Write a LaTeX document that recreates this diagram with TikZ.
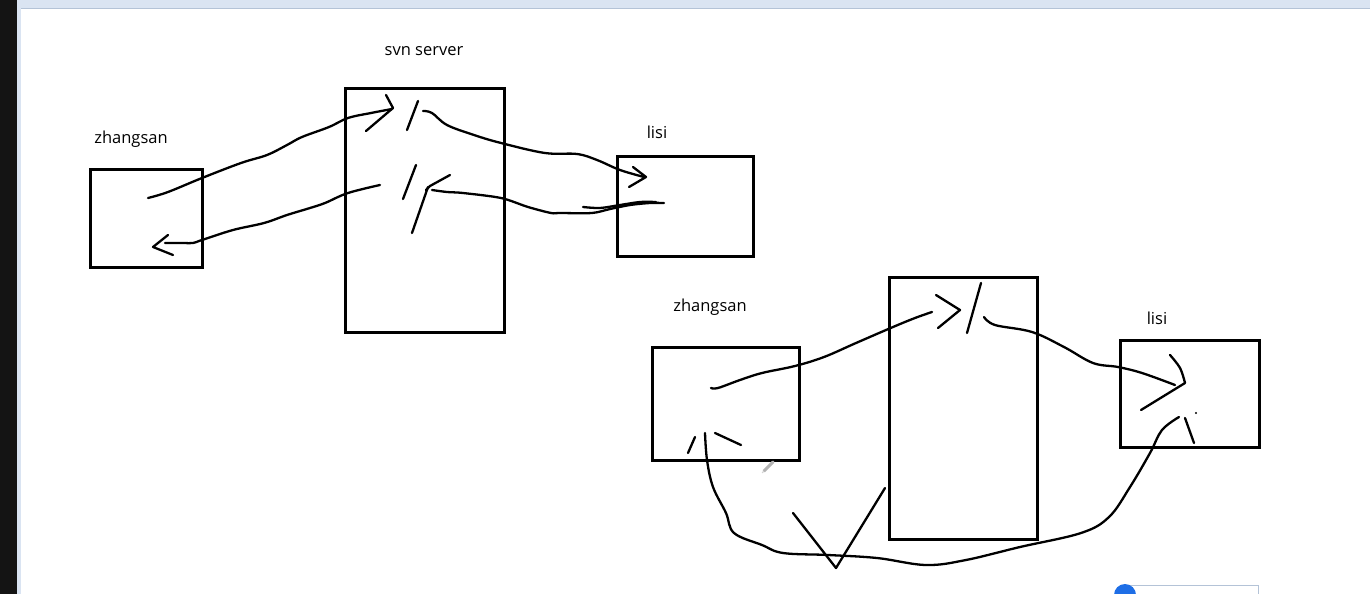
\documentclass[tikz,border=0pt]{standalone}
\usepackage{fontspec}
\setmainfont{Open Sans}
\definecolor{chrome}{RGB}{218,228,242}
\definecolor{chromeline}{RGB}{180,195,215}
\definecolor{widgetblue}{RGB}{30,110,230}
\begin{document}
\begin{tikzpicture}[x=1pt,y=-1pt,
  box/.style={draw, line width=3pt, inner sep=0pt, anchor=north west},
  pen/.style={line width=2.3pt, line cap=round, line join=round},
  lbl/.style={font=\fontsize{16.5}{18}\selectfont, inner sep=0pt}]
\useasboundingbox (0,0) rectangle (1370,594);
\fill[white] (0,0) rectangle (1370,594);
% window chrome
\fill[black!92] (0,0) rectangle (17,594);
\fill[chrome] (17,0) rectangle (1370,9);
\fill[chrome] (17,0) rectangle (21,594);
\draw[chromeline, line width=0.8pt] (21,8.5) -- (1370,8.5);
% boxes
\node[box, minimum width=112pt, minimum height=98pt] (za) at (89,168) {};
\node[box, minimum width=159pt, minimum height=244pt] (svn) at (344,87) {};
\node[box, minimum width=136pt, minimum height=100pt] (la) at (616,155) {};
\node[box, minimum width=147pt, minimum height=113pt] (zb) at (651,346) {};
\node[box, minimum width=148pt, minimum height=262pt] (svnb) at (888,276) {};
\node[box, minimum width=139pt, minimum height=107pt] (lb) at (1119,339) {};
% labels
\node[lbl] (tza) at (131,139) {zhangsan};
\node[lbl] (tsvn) at (424,51) {svn server};
\node[lbl] (tla) at (657,132) {lisi};
\node[lbl] (tzb) at (710,307) {zhangsan};
\node[lbl] (tlb) at (1157,318) {lisi};
% ---- top strokes
\draw[pen] plot[smooth, tension=0.6] coordinates {(148,198) (168,192) (202,178) (241,163) (267,155) (287,145) (302,137) (329,127) (348,118) (371,113) (392,109)};
\draw[pen] (386,95) -- (393,108) -- (366,131);
\draw[pen] (418,101) -- (407,130);
\draw[pen] plot[smooth, tension=0.6] coordinates {(423,111) (432,113) (447,125) (474,135) (501,143) (545,153) (577,154) (597,160) (620,170) (644,177)};
\draw[pen] (633,167) -- (646,177) -- (629,187);
\draw[pen] plot[smooth, tension=0.5] coordinates {(664,203) (650,203) (630,205) (610,209) (592,213) (560,213) (551,213) (528,207) (501,198) (463,193) (447,192) (432,190)};
\draw[pen] plot[smooth, tension=0.5] coordinates {(583,207) (600,208) (620,205) (640,202) (656,202)};
\draw[pen] (450,175) -- (430,186) -- (426,190);
\draw[pen] (428,187) -- (412,233);
\draw[pen] (416,165) -- (403,199);
\draw[pen] plot[smooth, tension=0.6] coordinates {(380,185) (348,193) (325,203) (310,208) (287,215) (264,223) (233,230) (202,240) (193,243) (183,243) (165,243)};
\draw[pen] (168,235) -- (153,247) -- (173,255);
% ---- bottom strokes
\draw[pen] plot[smooth, tension=0.6] coordinates {(711,388) (718,388) (740,380) (762,373) (795,366) (824,357) (856,343) (893,327) (915,318) (932,312)};
\draw[pen] (936,295) -- (960,310) -- (938,328);
\draw[pen] (981,283) -- (967,333);
\draw[pen] plot[smooth, tension=0.6] coordinates {(984,317) (995,325) (1032,332) (1064,347) (1093,363) (1118,367) (1142,373) (1175,385)};
\draw[pen] plot[smooth, tension=0.6] coordinates {(1170,355) (1180,368) (1185,383)} -- (1141,410);
\fill (1196,413) circle (1.2pt);
\draw[pen] plot[smooth, tension=0.6] coordinates {(705,433) (707,460) (713,487) (726,513) (734,533) (762,545) (783,553) (828,555) (877,558) (926,565) (966,560) (1020,547) (1081,533) (1109,517) (1130,487) (1150,453) (1162,430) (1179,417)};
\draw[pen] (1185,418) -- (1194,443);
\draw[pen] (695,437) -- (688,453);
\draw[pen] (715,433) -- (741,445);
\draw[pen] (793,513) -- (836,568) -- (885,488);
% pencil cursor
\draw[gray!60, line width=3pt, line cap=round] (764,471) -- (773,462);
\draw[gray!35, line width=1pt] (762,473) -- (764,471);
% bottom-right widget
\draw[chromeline, line width=1pt, fill=white] (1125,585) rectangle (1258,598);
\fill[widgetblue] (1125,595) circle (11pt);
\end{tikzpicture}
\end{document}
